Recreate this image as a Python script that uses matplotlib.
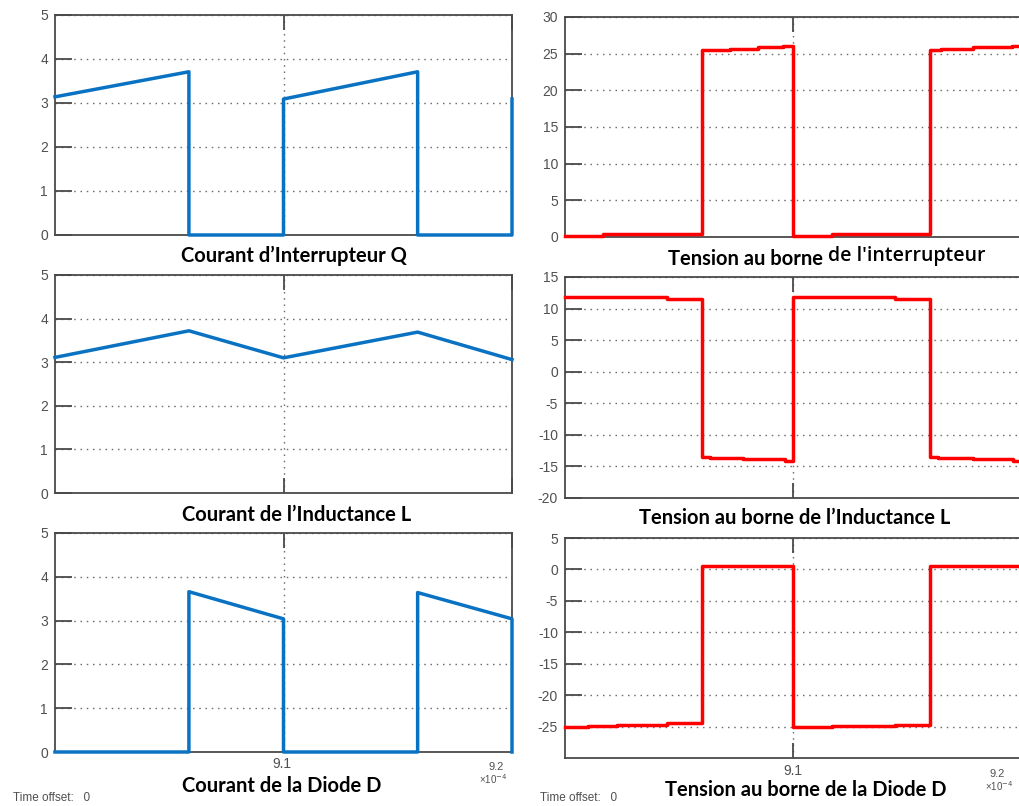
import matplotlib
matplotlib.use("Agg")
import matplotlib.pyplot as plt

plt.rcParams["axes.unicode_minus"] = False

W, H = 1020, 806

# time axis in units of 1e-4 s
t_range = (9.0, 9.2)
x_ticks = [9.1, 9.2]

# switch current i_Q (A)
iq_t = [9.0, 9.0586, 9.0586, 9.1, 9.1, 9.1587, 9.1587, 9.2, 9.2]
iq_v = [3.14, 3.71, 0.0, 0.0, 3.09, 3.71, 0.0, 0.0, 3.09]

# inductor current i_L (A)
il_t = [9.0, 9.0586, 9.1, 9.1587, 9.2]
il_v = [3.11, 3.72, 3.10, 3.69, 3.06]

# diode current i_D (A)
id_t = [9.0, 9.0586, 9.0586, 9.1, 9.1, 9.1587, 9.1587, 9.2, 9.2]
id_v = [0.0, 0.0, 3.66, 3.04, 0.0, 0.0, 3.64, 3.04, 0.0]

# switch voltage v_Q (V), piecewise constant (value holds from each instant)
vq_t = [9.0, 9.0166, 9.0601, 9.0725, 9.0848, 9.0958, 9.1, 9.1172, 9.1604, 9.1651, 9.1793, 9.1963, 9.2]
vq_v = [0.2, 0.4, 25.5, 25.65, 25.85, 26.0, 0.2, 0.4, 25.5, 25.65, 25.85, 26.0, 26.0]

# inductor voltage v_L (V)
vl_t = [9.0, 9.0447, 9.0601, 9.0637, 9.0784, 9.0967, 9.1, 9.1451, 9.1604, 9.1641, 9.1793, 9.1969, 9.2]
vl_v = [11.8, 11.55, -13.45, -13.66, -13.87, -14.1, 11.8, 11.55, -13.45, -13.66, -13.87, -14.1, -14.1]

# diode voltage v_D (V)
vd_t = [9.0, 9.0102, 9.0227, 9.0447, 9.0601, 9.1, 9.1172, 9.1451, 9.1604, 9.2]
vd_v = [-25.1, -24.9, -24.8, -24.5, 0.5, -25.1, -24.9, -24.7, 0.5, 0.5]

y_limits = [(0, 5), (0, 5), (0, 5), (0, 30), (-20, 15), (-30, 5)]
y_ticks = [range(0, 6), range(0, 6), range(0, 6),
           range(0, 31, 5), range(-20, 16, 5), range(-25, 6, 5)]

titles_left = ["Courant d\u2019Interrupteur Q", "Courant de l\u2019Inductance L",
               "Courant de la Diode D"]
titles_right = ["Tension au borne", "de l'interrupteur",
                "Tension au borne de l\u2019Inductance L",
                "Tension au borne de la Diode D"]

BLUE = "#0a72c2"
RED = "#ff0000"
SPINE = "#4a4a4a"
LABEL = "#505050"


def px_rect(x0, y0, x1, y1):
    return [x0 / W, 1 - y1 / H, (x1 - x0) / W, (y1 - y0) / H]


def fx(x):
    return x / W


def fy(y):
    return 1 - y / H


fig = plt.figure(figsize=(W / 100, H / 100), dpi=100)
fig.patch.set_facecolor("white")

boxes = [
    (55, 15, 512, 235), (55, 275, 512, 493), (55, 533, 512, 752),
    (565, 17, 1020, 237), (565, 277, 1020, 498), (565, 538, 1020, 758),
]

axes = []
for i, b in enumerate(boxes):
    ax = fig.add_axes(px_rect(*b))
    ax.set_xlim(*t_range)
    ax.set_ylim(*y_limits[i])
    ax.set_yticks(list(y_ticks[i]))
    ax.set_xticks(x_ticks)
    ax.set_xticklabels([])
    ax.tick_params(axis="y", direction="in", length=12, width=1.3, color=SPINE,
                   labelsize=10, labelcolor=LABEL, pad=5, left=True, right=False)
    ax.tick_params(axis="x", direction="in", length=11, width=1.3, color=SPINE,
                   top=True, bottom=True)
    for lab in ax.get_yticklabels():
        lab.set_fontfamily("Liberation Sans")
    for s in ax.spines.values():
        s.set_color(SPINE)
        s.set_linewidth(1.3)
    ax.grid(True, linestyle=(0, (1.1, 3.4)), color="#6e6e6e", linewidth=1.0)
    ax.set_axisbelow(True)
    axes.append(ax)

lw = 2.5
axes[0].plot(iq_t, iq_v, color=BLUE, lw=lw, clip_on=False, zorder=3)
axes[1].plot(il_t, il_v, color=BLUE, lw=lw, clip_on=False, zorder=3)
axes[2].plot(id_t, id_v, color=BLUE, lw=lw, clip_on=False, zorder=3)
axes[3].step(vq_t, vq_v, where="post", color=RED, lw=lw, clip_on=False, zorder=3)
axes[4].step(vl_t, vl_v, where="post", color=RED, lw=lw, clip_on=False, zorder=3)
axes[5].step(vd_t, vd_v, where="post", color=RED, lw=lw, clip_on=False, zorder=3)

# panel captions
title_kw = dict(fontfamily="Lato", fontweight="bold", fontsize=14.5, color="black",
                ha="center", va="baseline")
fig.text(fx(294), fy(262), titles_left[0], **title_kw)
fig.text(fx(297), fy(521), titles_left[1], **title_kw)
fig.text(fx(282), fy(792), titles_left[2], **title_kw)
fig.text(fx(823), fy(265), titles_right[0], fontfamily="Lato", fontweight="bold",
         fontsize=14.5, color="black", ha="right", va="baseline")
fig.text(fx(828), fy(261), titles_right[1], fontfamily="Open Sans", fontweight="semibold",
         fontsize=14, color="black", ha="left", va="baseline")
fig.text(fx(795), fy(524), titles_right[2], **title_kw)
fig.text(fx(806), fy(796), titles_right[3], **title_kw)

# time-axis labels on the bottom row
tick_kw = dict(fontfamily="Liberation Sans", color=LABEL, ha="center", va="center")
fig.text(fx(282), fy(764), "9.1", fontsize=10, **tick_kw)
fig.text(fx(496), fy(767), "9.2", fontsize=8, **tick_kw)
fig.text(fx(493), fy(779), "\u00d710$^{-4}$", fontsize=7, **tick_kw)
fig.text(fx(793), fy(771), "9.1", fontsize=10, **tick_kw)
fig.text(fx(997), fy(774), "9.2", fontsize=8, **tick_kw)
fig.text(fx(999), fy(786), "\u00d710$^{-4}$", fontsize=7, **tick_kw)

fig.text(fx(13), fy(798), "Time offset:   0", fontfamily="Liberation Sans",
         fontsize=8.5, color=LABEL, ha="left", va="center")
fig.text(fx(540), fy(798), "Time offset:   0", fontfamily="Liberation Sans",
         fontsize=8.5, color=LABEL, ha="left", va="center")

fig.savefig("out.png", dpi=100, facecolor="white")
